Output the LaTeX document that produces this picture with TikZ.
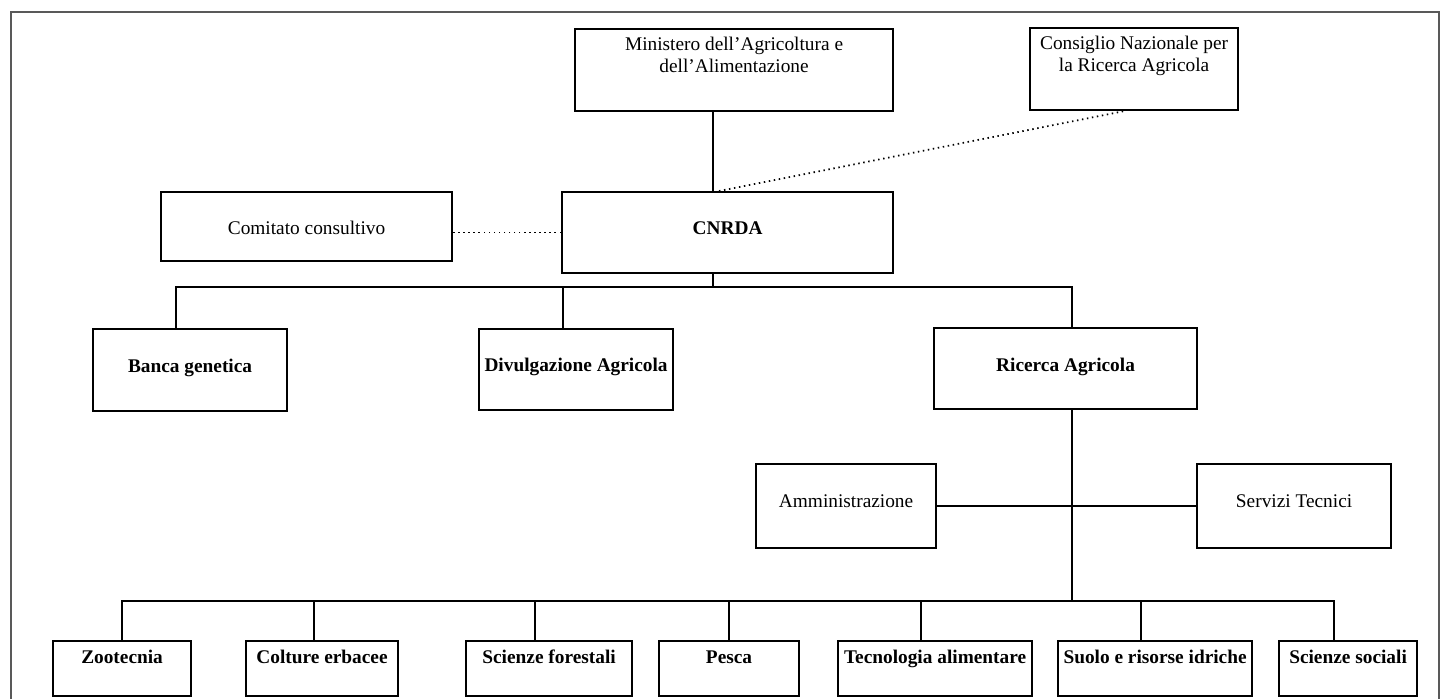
\documentclass[tikz,border=0pt]{standalone}
\usepackage{fontspec}
\setmainfont{Liberation Serif}
\begin{document}
\begin{tikzpicture}[x=0.75pt,y=-0.75pt,
  box/.style={draw, line width=1.6pt, inner ysep=0pt, inner xsep=1pt, anchor=north west,
              font=\fontsize{14.5pt}{16.5pt}\selectfont},
  boldbox/.style={box, font=\fontsize{14.5pt}{16.5pt}\selectfont\bfseries},
  conn/.style={line width=1.3pt},
  dotline/.style={line width=1.3pt, dash pattern=on 1.1pt off 2.7pt},
  frameline/.style={line width=0.8pt, draw=black!65}]
\useasboundingbox (0,0) rectangle (1445,699);
\draw[frameline] (11,699) -- (11,12) -- (1439,12) -- (1439,699);

% top level
\node[box, minimum width=238.5pt, text height=15.75pt, text depth=45.75pt] (min) at (574,28)
  {\begin{tabular}[t]{@{}c@{}}Ministero dell'Agricoltura e\\dell'Alimentazione\end{tabular}};
\node[box, minimum width=156pt, text height=15.75pt, text depth=45.75pt] (cons) at (1029,27)
  {\begin{tabular}[t]{@{}c@{}}Consiglio Nazionale per\\la Ricerca Agricola\end{tabular}};
\node[boldbox, minimum width=248.25pt, text height=31.5pt, text depth=29.25pt] (cnrda) at (561,191) {CNRDA};
\node[box, minimum width=218.25pt, text height=31.5pt, text depth=20.25pt] (com) at (160,191) {Comitato consultivo};

% second level
\node[boldbox, minimum width=145.5pt, text height=32.25pt, text depth=29.25pt] (banca) at (92,328) {Banca genetica};
\node[boldbox, minimum width=145.5pt, text height=31.5pt, text depth=29.25pt] (divul) at (478,328) {Divulgazione Agricola};
\node[boldbox, minimum width=197.25pt, text height=32.25pt, text depth=28.5pt] (ric) at (933,327) {Ricerca Agricola};

% staff
\node[box, minimum width=135pt, text height=32.25pt, text depth=30.75pt] (amm) at (755,463) {Amministrazione};
\node[box, minimum width=145.5pt, text height=32.25pt, text depth=30.75pt] (serv) at (1196,463) {Servizi Tecnici};

% bottom row
\tikzset{bot/.style={boldbox, text height=16.5pt, text depth=24.75pt}}
\node[bot, minimum width=103.5pt] (zoo) at (52,640) {Zootecnia};
\node[bot, minimum width=114pt] (col) at (245,640) {Colture erbacee};
\node[bot, minimum width=124.5pt] (sfor) at (465,640) {Scienze forestali};
\node[bot, minimum width=105pt] (pesca) at (658,640) {Pesca};
\node[bot, minimum width=145.5pt] (tec) at (837,640) {Tecnologia alimentare};
\node[bot, minimum width=145.5pt] (suolo) at (1057,640) {Suolo e risorse idriche};
\node[bot, minimum width=103.5pt] (ssoc) at (1278,640) {Scienze sociali};

% bus points
\coordinate (busA) at (713,287);
\coordinate (busB) at (1072,601);

% connectors
\draw[conn] (min.south -| busA) -- (cnrda.north -| busA);
\draw[conn] (cnrda.south -| busA) -- (busA);
\draw[conn] ([xshift=-10.5pt]banca.north) |- (busA);
\draw[conn] ([xshift=-9.75pt]divul.north) |- (busA);
\draw[conn] (ric.north -| busB) |- (busA);
\draw[conn] (ric.south -| busB) -- (busB);
\draw[conn] (amm.east) -- (serv.west);
\draw[conn] (zoo.north) |- (busB);
\draw[conn] ([xshift=-6pt]col.north) |- (busB);
\draw[conn] ([xshift=-10.5pt]sfor.north) |- (busB);
\draw[conn] (pesca.north) |- (busB);
\draw[conn] ([xshift=-10.5pt]tec.north) |- (busB);
\draw[conn] ([xshift=-10.5pt]suolo.north) |- (busB);
\draw[conn] ([xshift=-10.5pt]ssoc.north) |- (busB);

% dotted relations
\draw[dotline] (cnrda.west) -- (cnrda.west -| com.east);
\draw[dotline] ([xshift=-6.4pt]cnrda.north) -- ([xshift=-7.5pt]cons.south);
\end{tikzpicture}
\end{document}
